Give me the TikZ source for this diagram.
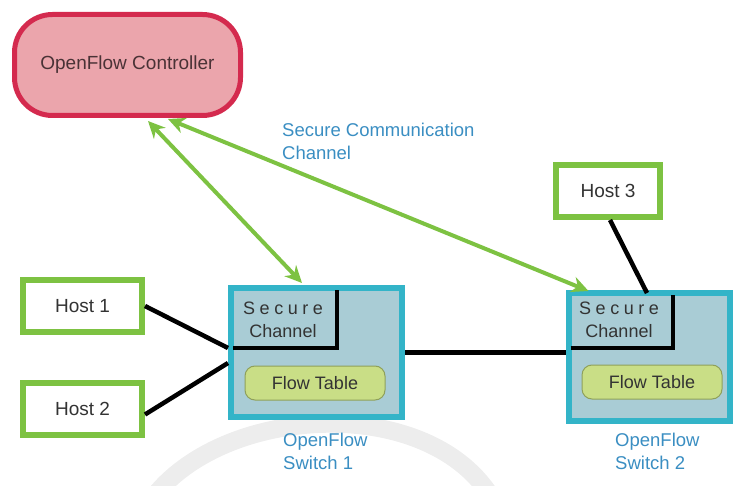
\documentclass[tikz,border=0pt]{standalone}
\usepackage{fontspec}
\setmainfont{Liberation Sans}
\newfontfamily\spacedfont[LetterSpace=25]{Liberation Sans}
\usetikzlibrary{arrows.meta,positioning,calc}
\definecolor{ofred}{HTML}{D42A4E}
\definecolor{ofpink}{HTML}{EBA5AC}
\definecolor{ofgreen}{HTML}{7DC242}
\definecolor{ofteal}{HTML}{33B4C8}
\definecolor{ofblue}{HTML}{A9CCD5}
\definecolor{oflime}{HTML}{C9DE86}
\definecolor{ofolive}{HTML}{8FA05A}
\definecolor{oflabel}{HTML}{3A8EC2}
\definecolor{oftext}{HTML}{333333}
\definecolor{ofdark}{HTML}{4A3236}

\begin{document}
\begin{tikzpicture}[x=1pt,y=-1pt,
  ctrlbox/.style={rectangle,rounded corners=38pt,draw=ofred,fill=ofpink,line width=5pt,
                  minimum width=226pt,minimum height=101pt,
                  font=\fontsize{19}{23}\selectfont,text=ofdark},
  hostbox/.style={rectangle,draw=ofgreen,fill=white,line width=6pt,
                  minimum height=52pt,font=\fontsize{19}{23}\selectfont,text=oftext},
  switchbox/.style={rectangle,draw=ofteal,fill=ofblue,line width=6pt},
  flowbox/.style={rectangle,rounded corners=10pt,draw=ofolive,fill=oflime,line width=1pt,
                  minimum width=140pt,minimum height=34pt,
                  font=\fontsize{18}{22}\selectfont,text=oftext},
  chantext/.style={align=center,font=\fontsize{18}{23}\selectfont,text=oftext,inner sep=0pt},
  swlabel/.style={align=left,font=\fontsize{18.5}{23}\selectfont,text=oflabel,
                  anchor=west,inner sep=0pt},
  wire/.style={line width=4.5pt,black},
  secure/.style={line width=4pt,ofgreen,
                 {Stealth[length=17pt,width=16pt]}-{Stealth[length=17pt,width=16pt]}}
]
\useasboundingbox (0,0) rectangle (733,486);

% ---- faint ring in the background ---------------------------
\draw[gray!14,line width=18pt] (155,495) .. controls (228,405) and (425,395) .. (490,495);

% ---- Controller ---------------------------------------------
\node[ctrlbox] (ctrl) at (127.5,65) {OpenFlow Controller};

% ---- Hosts --------------------------------------------------
\node[hostbox,minimum width=119pt] (h1) at (82.5,306)   {Host 1};
\node[hostbox,minimum width=119pt] (h2) at (82.5,408.5) {Host 2};
\node[hostbox,minimum width=104pt] (h3) at (608,191)    {Host 3};

% ---- OpenFlow Switch 1 --------------------------------------
\node[switchbox,minimum width=171pt,minimum height=129pt] (sw1) at (316.5,352.5) {};
\node[chantext] (sc1) at (283,320) {{\spacedfont Secure}\\Channel};
\coordinate (sc1c) at (337,348);
\draw[wire,shorten <=5pt,shorten >=5pt] (sw1.west |- sc1c) -- (sc1c) -- (sc1c |- sw1.north);
\node[flowbox] (ft1) at (315,383) {Flow Table};
\node[swlabel] (sw1lbl) at (283,451) {OpenFlow\\Switch 1};

% ---- OpenFlow Switch 2 --------------------------------------
\node[switchbox,minimum width=161pt,minimum height=128pt] (sw2) at (649,357) {};
\node[chantext] (sc2) at (619,320) {{\spacedfont Secure}\\Channel};
\coordinate (sc2c) at (673,348);
\draw[wire,shorten <=5pt,shorten >=5pt] (sw2.west |- sc2c) -- (sc2c) -- (sc2c |- sw2.north);
\node[flowbox] (ft2) at (652,382) {Flow Table};
\node[swlabel] (sw2lbl) at (615,451) {OpenFlow\\Switch 2};

% ---- Links --------------------------------------------------
\coordinate (h1in) at (228,348);
\coordinate (h2in) at (228,363);
\coordinate (h3in) at (647,293);
\draw[wire] (h1.east) -- (h1in);
\draw[wire] ([yshift=-6pt]h2.east) -- (h2in);
\draw[wire] ([xshift=2pt]h3.south) -- (h3in);
\draw[wire] (sw1.east) -- (sw1.east -| sw2.west);

% ---- Secure channel arrows ----------------------------------
\draw[secure] ($(ctrl.south)+(20.5,3)$) -- ($(sw1.north)+(-14.5,-2)$);
\draw[secure] ($(ctrl.south)+(40.5,1)$) -- ($(sw2.north)+(-60.5,1)$);
\node[swlabel] (chanlbl) at (282,141.5) {Secure Communication\\Channel};

\end{tikzpicture}
\end{document}
